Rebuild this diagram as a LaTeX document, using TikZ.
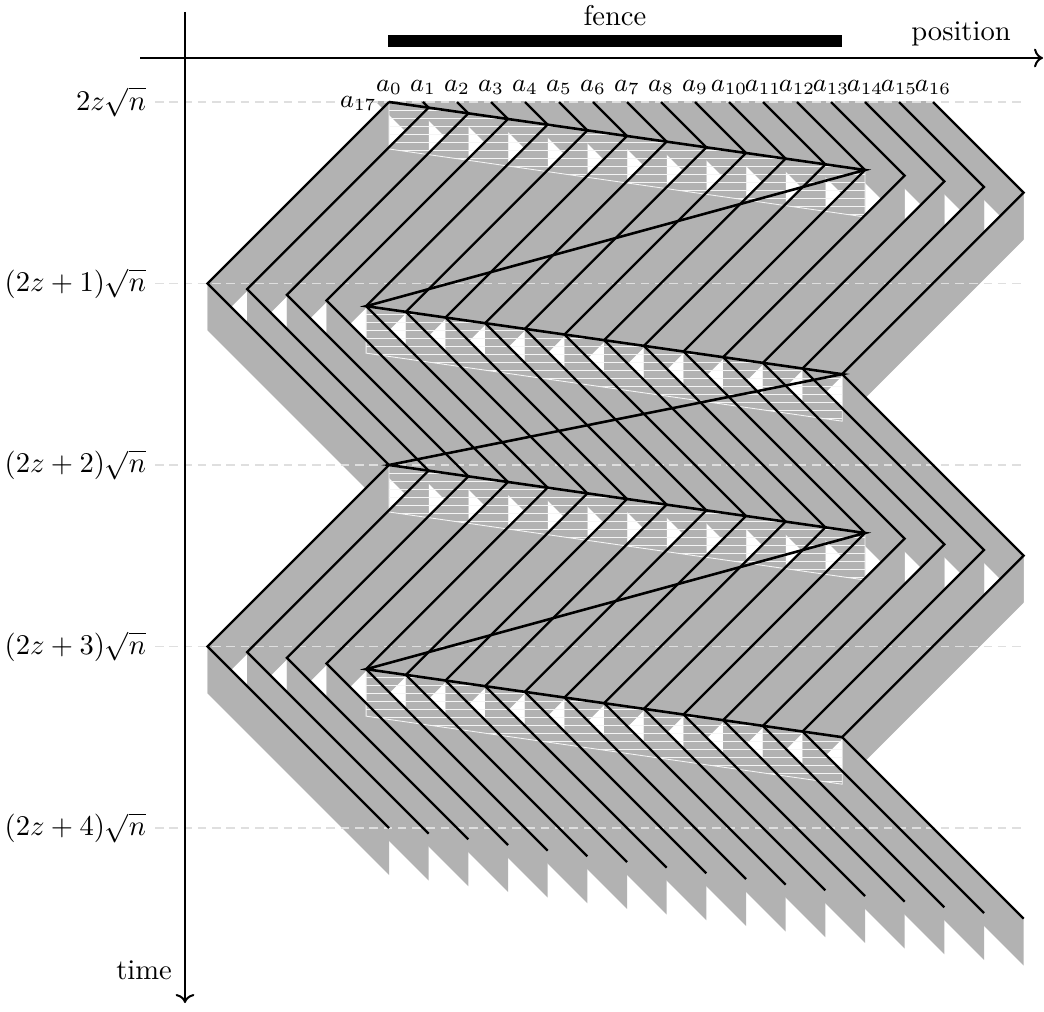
\documentclass[tikz,border=0pt]{standalone}
\usetikzlibrary{arrows.meta}
\begin{document}
\begin{tikzpicture}[x=0.35pt,y=-0.35pt,
  band/.style={fill=gray!60},
  traj/.style={line width=0.8pt},
  fastline/.style={line width=0.9pt},
  lvl/.style={gray!25, dash pattern=on 3pt off 2pt, line width=0.5pt},
  hatchline/.style={white!92!gray, line width=0.3pt},
  axisline/.style={line width=0.7pt, ->}
]
\useasboundingbox (0,0) rectangle (1044,1012);
\def\H{47}
% ---- gray bands ----
\begin{scope}
\clip (0,102) rectangle (1044,1012);
\foreach \i in {0,...,16}{
  \pgfmathsetmacro\xs{389+34*\i}
  \pgfmathsetmacro\xr{389+39.6667*\i}
  \pgfmathsetmacro\xl{207.5+39.6667*\i}
  \pgfmathsetmacro\tc{5.6667*\i}
  \pgfmathsetmacro\ya{102+\tc}
  \pgfmathsetmacro\yb{283.5+\tc}
  \pgfmathsetmacro\yc{465+\tc}
  \pgfmathsetmacro\yd{646.5+\tc}
  \pgfmathsetmacro\ye{828+\tc}
  \ifnum\i>0
    \fill[band] (\xs-\H,102-\H) -- (\xr,\ya) -- (\xr,\ya+\H) -- (\xs-\H,102) -- cycle;
  \fi
  \fill[band] (\xr,\ya) -- (\xl,\yb) -- (\xl,\yb+\H) -- (\xr,\ya+\H) -- cycle;
  \fill[band] (\xl,\yb) -- (\xr,\yc) -- (\xr,\yc+\H) -- (\xl,\yb+\H) -- cycle;
  \fill[band] (\xr,\yc) -- (\xl,\yd) -- (\xl,\yd+\H) -- (\xr,\yc+\H) -- cycle;
  \fill[band] (\xl,\yd) -- (\xr,\ye) -- (\xr,\ye+\H) -- (\xl,\yd+\H) -- cycle;
}
\end{scope}
% ---- level lines ----
\foreach \y in {102,283.5,465,646.5,828}{
  \draw[lvl] (155,\y) -- (1023,\y);
}
% ---- hatched regions of the fast particle ----
\foreach \ax/\ay/\bx/\by in {389/102/865/170, 366.17/306.17/842.17/374.17, 389/465/865/533, 366.17/669.17/842.17/737.17}{
  \begin{scope}
    \clip (\ax,\ay) -- (\bx,\by) -- (\bx,\by+\H) -- (\ax,\ay+\H) -- cycle;
    \foreach \k in {1,...,16}{
      \draw[hatchline] (350,\ay+8*\k) -- (880,\ay+8*\k);
    }
  \end{scope}
  \draw[hatchline] (\ax,\ay) -- (\bx,\by) -- (\bx,\by+\H) -- (\ax,\ay+\H) -- cycle;
}
% ---- particle trajectories ----
\foreach \i in {0,...,16}{
  \pgfmathsetmacro\xs{389+34*\i}
  \pgfmathsetmacro\xr{389+39.6667*\i}
  \pgfmathsetmacro\xl{207.5+39.6667*\i}
  \pgfmathsetmacro\tc{5.6667*\i}
  \pgfmathsetmacro\ya{102+\tc}
  \pgfmathsetmacro\yb{283.5+\tc}
  \pgfmathsetmacro\yc{465+\tc}
  \pgfmathsetmacro\yd{646.5+\tc}
  \pgfmathsetmacro\ye{828+\tc}
  \coordinate (S\i) at (\xs,102);
  \coordinate (R\i) at (\xr,\ya);
  \coordinate (L\i) at (\xl,\yb);
  \coordinate (RR\i) at (\xr,\yc);
  \coordinate (LL\i) at (\xl,\yd);
  \coordinate (E\i) at (\xr,\ye);
  \ifnum\i>0
    \draw[traj] (S\i) -- (R\i) -- (L\i) -- (RR\i) -- (LL\i) -- (E\i);
  \else
    \draw[traj] (R\i) -- (L\i) -- (RR\i) -- (LL\i) -- (E\i);
  \fi
  \node[anchor=base, font=\small] (a\i) at (\xs,92) {$a_{\i}$};
}
% ---- fast particle a17 ----
\draw[fastline] (R0) -- (R12) -- (L4) -- (L16) -- (RR0) -- (RR12) -- (LL4) -- (LL16);
\node[anchor=base east, inner sep=0pt, font=\small] (a17) at (377,108) {$a_{17}$};
% ---- axes ----
\coordinate (px0) at (140,58);
\coordinate (px1) at (1043,58);
\coordinate (tm0) at (185,12);
\coordinate (tm1) at (185,1003);
\draw[axisline] (px0) -- (px1);
\draw[axisline] (tm0) -- (tm1);
\node (poslab) at (961,34) {position};
\node[anchor=east] (timelab) at (182,970) {time};
% ---- fence ----
\fill (388,35) rectangle (842,47);
\node (fencelab) at (615,16) {fence};
% ---- level labels ----
\node[anchor=east] (lv0) at (156,102) {$2z\sqrt{n}$};
\node[anchor=east] (lv1) at (156,283.5) {$(2z+1)\sqrt{n}$};
\node[anchor=east] (lv2) at (156,465) {$(2z+2)\sqrt{n}$};
\node[anchor=east] (lv3) at (156,646.5) {$(2z+3)\sqrt{n}$};
\node[anchor=east] (lv4) at (156,828) {$(2z+4)\sqrt{n}$};
\end{tikzpicture}
\end{document}
